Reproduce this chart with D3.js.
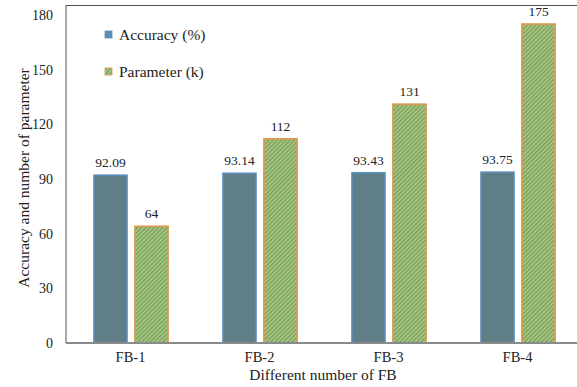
<!DOCTYPE html>
<html>
<head>
<meta charset="utf-8">
<script src="https://cdn.jsdelivr.net/npm/d3@7"></script>
<style>
  html, body { margin: 0; padding: 0; background: #fff; }
  svg { display: block; }
  svg text { font-family: "Liberation Serif", "Times New Roman", serif !important; fill: #222; }
</style>
</head>
<body>
<svg id="chart" width="577" height="387"></svg>
<script>
// Feature-block variants and their results
const categories = ["FB-1", "FB-2", "FB-3", "FB-4"];
const accuracy = [92.09, 93.14, 93.43, 93.75];
const parameters = [64, 112, 131, 175];
const yTicks = [0, 30, 60, 90, 120, 150, 180];
const seriesNames = ["Accuracy (%)", "Parameter (k)"];

(function draw() {
  const svg = d3.select("#chart");
  const W = 577;
  const plotLeft = 66, plotRight = 582, plotTop = 15, plotBottom = 343, frameTop = 5;
  const serif = "'Liberation Serif', 'Times New Roman', serif";

  // hatch pattern for the parameter bars
  const defs = svg.append("defs");
  const pat = defs.append("pattern")
    .attr("id", "hatch")
    .attr("patternUnits", "userSpaceOnUse")
    .attr("width", 3).attr("height", 3)
    .attr("patternTransform", "rotate(45)");
  pat.append("rect").attr("width", 3).attr("height", 3).attr("fill", "#b4cc8e");
  pat.append("rect").attr("width", 1.6).attr("height", 3).attr("fill", "#77a257");

  const x = d3.scaleBand().domain(categories).range([plotLeft, plotRight]).paddingInner(0).paddingOuter(0);
  const y = d3.scaleLinear().domain([0, 180]).range([plotBottom, plotTop]);

  // frame
  svg.append("line").attr("x1", plotLeft).attr("x2", plotLeft).attr("y1", frameTop).attr("y2", plotBottom)
    .attr("stroke", "#555").attr("stroke-width", 1);
  svg.append("line").attr("x1", plotLeft).attr("x2", W).attr("y1", frameTop + 0.5).attr("y2", frameTop + 0.5)
    .attr("stroke", "#555").attr("stroke-width", 1);

  // y axis labels
  const yAxis = d3.axisLeft(y).tickValues(yTicks).tickSize(0).tickPadding(13);
  const gy = svg.append("g").attr("transform", `translate(${plotLeft},0)`).call(yAxis)
    .attr("font-family", serif);
  gy.select(".domain").remove();
  gy.selectAll("text").style("font-family", serif).attr("font-size", 14).attr("fill", "#222");

  // bars
  const barW = 33, gap = 7;
  const groups = svg.append("g").selectAll("g").data(categories).join("g")
    .attr("transform", d => `translate(${x(d) + x.bandwidth() / 2},0)`);

  groups.append("rect")
    .attr("x", -gap / 2 - barW)
    .attr("y", (d, i) => y(accuracy[i]))
    .attr("width", barW)
    .attr("height", (d, i) => y(0) - y(accuracy[i]))
    .attr("fill", "#5f7e86")
    .attr("stroke", "#5b8dba").attr("stroke-width", 1.6);

  groups.append("rect")
    .attr("x", gap / 2 + 1)
    .attr("y", (d, i) => y(parameters[i]))
    .attr("width", barW)
    .attr("height", (d, i) => y(0) - y(parameters[i]))
    .attr("fill", "url(#hatch)")
    .attr("stroke", "#d89a52").attr("stroke-width", 1.8);

  // value labels
  groups.append("text")
    .style("font-family", serif)
    .attr("x", -gap / 2 - barW / 2)
    .attr("y", (d, i) => y(accuracy[i]) - 8)
    .attr("text-anchor", "middle").attr("font-size", 13.5)
    .text((d, i) => accuracy[i].toFixed(2));

  groups.append("text")
    .style("font-family", serif)
    .attr("x", gap / 2 + barW / 2 + 1)
    .attr("y", (d, i) => y(parameters[i]) - 8)
    .attr("text-anchor", "middle").attr("font-size", 13.5)
    .text((d, i) => parameters[i]);

  // baseline
  svg.append("line").attr("x1", plotLeft).attr("x2", W).attr("y1", plotBottom).attr("y2", plotBottom)
    .attr("stroke", "#8a8a8a").attr("stroke-width", 2);

  // x axis labels
  const xAxis = d3.axisBottom(x).tickSize(0).tickPadding(9);
  const gx = svg.append("g").attr("transform", `translate(0,${plotBottom})`).call(xAxis)
    .attr("font-family", serif);
  gx.select(".domain").remove();
  gx.selectAll("text").style("font-family", serif).attr("font-size", 14.5).attr("fill", "#222");

  // axis titles
  svg.append("text").style("font-family", serif).attr("x", 323).attr("y", 380).attr("text-anchor", "middle")
    .attr("font-size", 15.5).text("Different number of FB");
  svg.append("text").style("font-family", serif).attr("transform", "translate(29,178) rotate(-90)")
    .attr("text-anchor", "middle").attr("font-size", 15.5).text("Accuracy and number of parameter");

  // legend
  const legend = svg.append("g");
  const legendY = [35, 72];
  const legendFill = ["#5b8dba", "url(#hatch)"];
  const legendStroke = ["#5b8dba", "#d89a52"];
  seriesNames.forEach((name, i) => {
    legend.append("rect").attr("x", 105).attr("y", legendY[i] - 4).attr("width", 7).attr("height", 7)
      .attr("fill", legendFill[i]).attr("stroke", legendStroke[i]).attr("stroke-width", 0.8);
    legend.append("text").style("font-family", serif).attr("x", 119).attr("y", legendY[i] + 5)
      .attr("font-size", 15.5).text(name);
  });
})();
</script>
</body>
</html>
